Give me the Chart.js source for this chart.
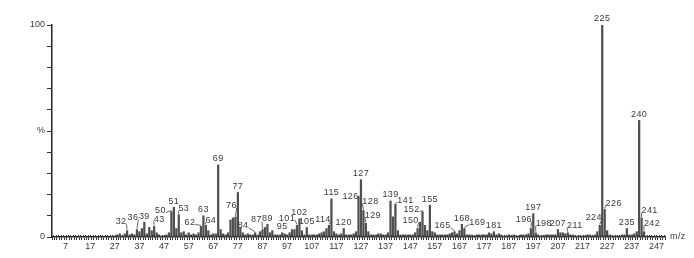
<!DOCTYPE html>
<html>
<head>
  <meta charset="utf-8">
  <script src="https://cdn.jsdelivr.net/npm/chart.js@4.4.1/dist/chart.umd.min.js"></script>
  <style>
    html, body { margin: 0; padding: 0; background: #fff; }
    #wrap { width: 694px; height: 258px; position: relative; }
  </style>
</head>
<body>
<div id="wrap"><canvas id="spectrum"></canvas></div>

<script type="text/javascript">
  // m/z values and relative intensities (%)
  const mz = [27, 28, 29, 30, 31, 32, 33, 34, 35, 36, 37, 38, 39, 40, 41, 42, 43, 44, 45, 46,
    47, 48, 49, 50, 51, 52, 53, 54, 55, 56, 57, 58, 59, 60, 61, 62, 63, 64, 65, 66,
    67, 68, 69, 70, 71, 72, 73, 74, 75, 76, 77, 78, 79, 80, 81, 82, 83, 84, 85, 86,
    87, 88, 89, 90, 91, 92, 93, 94, 95, 96, 97, 98, 99, 100, 101, 102, 103, 104, 105, 106,
    107, 108, 109, 110, 111, 112, 113, 114, 115, 116, 117, 118, 119, 120, 121, 122, 123, 124, 125, 126,
    127, 128, 129, 130, 131, 132, 133, 134, 135, 136, 137, 138, 139, 140, 141, 142, 143, 144, 145, 146,
    147, 148, 149, 150, 151, 152, 153, 154, 155, 156, 157, 158, 159, 160, 161, 162, 163, 164, 165, 166,
    167, 168, 169, 170, 171, 172, 173, 174, 175, 176, 177, 178, 179, 180, 181, 182, 183, 184, 185, 186,
    187, 188, 189, 190, 191, 192, 193, 194, 195, 196, 197, 198, 199, 200, 201, 202, 203, 204, 205, 206,
    207, 208, 209, 210, 211, 212, 213, 214, 215, 216, 217, 218, 219, 220, 221, 222, 223, 224, 225, 226,
    227, 228, 229, 230, 231, 232, 233, 234, 235, 236, 237, 238, 239, 240, 241, 242, 243];

  const intensity = [0.5, 1, 1.5, 0.5, 1.5, 3, 1, 1.5, 1, 3.5, 2.5, 4, 7, 1.5, 4.5, 3, 5, 2, 1, 0.5,
    0.5, 1, 2, 12, 14, 4, 10.5, 2, 2.5, 1, 2, 1, 1.5, 1, 2, 5, 10, 5.5, 3, 1,
    1.5, 1.5, 34, 3.5, 1.5, 1, 2, 8, 9, 9.5, 21, 4.5, 2, 1, 1.5, 1, 1, 2, 1, 2.5,
    3.5, 4.5, 6, 2, 3, 1, 1, 1, 2, 1.5, 1, 2, 3.5, 3.5, 5.5, 8.5, 3, 1, 4.5, 1,
    1, 1, 1, 1.5, 2, 2.5, 4, 5.5, 18, 2.5, 1.5, 1, 1.5, 4, 1, 1, 1, 1.5, 2.5, 19,
    27, 12.5, 6.5, 2.5, 1, 1, 1, 1.5, 1.5, 1, 1, 2, 17, 9.5, 15.5, 3, 1, 1, 1, 1,
    1, 1, 2, 4, 7, 12, 5.5, 3, 15, 2.5, 2, 1, 1, 1, 1, 1, 1.5, 2, 2.5, 1.5,
    3, 6, 4, 1, 1, 1, 0.5, 1, 1, 1, 1, 1, 2, 1.5, 2.5, 1, 1.5, 1, 0.5, 0.5,
    1, 0.5, 1, 0.5, 0.5, 1, 1, 1, 1.5, 4, 11, 2, 1, 0.5, 0.5, 1, 1, 1, 1, 1,
    3.5, 2, 2, 1.5, 2, 1, 1, 0.5, 0.5, 0.5, 0.5, 0.5, 1, 1, 0.5, 1, 2.5, 5.5, 100, 13,
    3, 1, 0.5, 0.5, 0.5, 0.5, 1, 1, 4, 1, 1, 1.5, 2.5, 55, 9, 2.5, 0.5];

  // peaks that carry a label
  const labelledPeaks = [32, 36, 39, 43, 50, 51, 53, 62, 63, 64, 69, 76, 77, 84, 87, 89, 95, 101, 102, 105,
    114, 115, 120, 126, 127, 128, 129, 139, 141, 150, 152, 155, 165, 168, 169, 181, 196, 197, 198, 207,
    211, 224, 225, 226, 235, 240, 241, 242];

  // x tick labels shown under the axis
  const xTickLabels = [7, 17, 27, 37, 47, 57, 67, 77, 87, 97, 107, 117, 127, 137, 147, 157, 167, 177, 187, 197, 207, 217, 227, 237, 247];

  // label placement relative to peak top (px); labels not listed sit straight above
  const labelShift = {
    32: [-6, -9], 36: [-4, -12], 43: [5, -7], 50: [-11, -1], 53: [5, -6], 62: [-11, -4],
    64: [5, -5], 76: [-4, -11], 84: [-12, -7], 87: [-6, -10], 101: [-10, -7], 114: [-6, -6],
    126: [-8, 0], 128: [7, -9], 129: [7, -8], 141: [10, -4], 150: [-7, -8], 152: [-11, -2],
    165: [-12, -6], 169: [13, -6], 196: [-7, -9], 198: [8, -9], 211: [7, -7], 224: [-6, -8],
    226: [9, -6], 241: [8, -7], 242: [8, -8]
  };

  const textColor = '#3a3a3a';
  const fontFamily = '"Liberation Sans", Arial, sans-serif';

  const peakLabels = {
    id: 'peakLabels',
    afterDatasetsDraw(chart) {
      const ctx = chart.ctx;
      const xs = chart.scales.x, ys = chart.scales.y;
      const area = chart.chartArea;
      ctx.save();

      // little hatch marks above the x axis, one per m/z unit
      ctx.strokeStyle = '#333';
      ctx.lineWidth = 1;
      ctx.beginPath();
      for (let m = Math.ceil(xs.min); m <= xs.max; m++) {
        const x = Math.round(xs.getPixelForValue(m)) + 0.5;
        ctx.moveTo(x, area.bottom);
        ctx.lineTo(x, area.bottom - 2);
      }
      ctx.stroke();

      ctx.font = '9px ' + fontFamily;
      if ('letterSpacing' in ctx) ctx.letterSpacing = '0.4px';
      ctx.fillStyle = textColor;
      ctx.strokeStyle = '#444';
      ctx.lineWidth = 0.8;
      ctx.textAlign = 'center';
      ctx.textBaseline = 'middle';
      labelledPeaks.forEach(function(m) {
        const i = mz.indexOf(m);
        const px = xs.getPixelForValue(m);
        const top = ys.getPixelForValue(intensity[i]);
        const s = labelShift[m] || [0, -6];
        const lx = px + s[0], ly = top + s[1];
        const txt = String(m);
        ctx.fillText(txt, lx, ly);
        if (labelShift[m]) {
          const w = ctx.measureText(txt).width / 2;
          const sx = s[0] < 0 ? lx + w : lx - w;
          ctx.beginPath();
          ctx.moveTo(sx, ly + 2);
          ctx.lineTo(px, top - 1);
          ctx.stroke();
        }
      });
      // axis title at the right end
      ctx.textAlign = 'left';
      ctx.fillText('m/z', area.right + 5, area.bottom);
      ctx.restore();
    }
  };

  const ctx = document.getElementById('spectrum').getContext('2d');

  new Chart(ctx, {
    type: 'bar',
    data: {
      datasets: [{
        data: mz.map(function(m, i) { return {x: m, y: intensity[i]}; }),
        backgroundColor: '#505050',
        barThickness: 1.6,
        grouped: false
      }]
    },
    options: {
      responsive: true,
      maintainAspectRatio: false,
      animation: false,
      layout: { padding: { top: 25, right: 29, left: 0, bottom: 0 } },
      plugins: { legend: { display: false }, tooltip: { enabled: false } },
      scales: {
        x: {
          type: 'linear',
          min: 2,
          max: 250,
          afterFit: function(scale) { scale.height = 21; },
          border: { color: '#222', width: 1.5 },
          grid: { drawOnChartArea: false, tickLength: 3, color: '#333', lineWidth: 1 },
          ticks: {
            stepSize: 1,
            maxTicksLimit: 1000,
            autoSkip: false,
            maxRotation: 0,
            padding: 1,
            color: textColor,
            font: { family: fontFamily, size: 9 },
            callback: function(v) { return xTickLabels.indexOf(v) >= 0 ? String(v) : ''; }
          }
        },
        y: {
          min: 0,
          max: 100,
          afterFit: function(scale) { scale.width = 52; },
          border: { color: '#222', width: 1.5 },
          grid: { drawOnChartArea: false, tickLength: 5, color: '#333', lineWidth: 1 },
          ticks: {
            stepSize: 10,
            padding: 2,
            color: textColor,
            font: { family: fontFamily, size: 9 },
            callback: function(v) {
              if (v === 100) return '100';
              if (v === 50) return '%';
              if (v === 0) return '0';
              return '';
            }
          }
        }
      }
    },
    plugins: [peakLabels]
  });
</script>
</body>
</html>
